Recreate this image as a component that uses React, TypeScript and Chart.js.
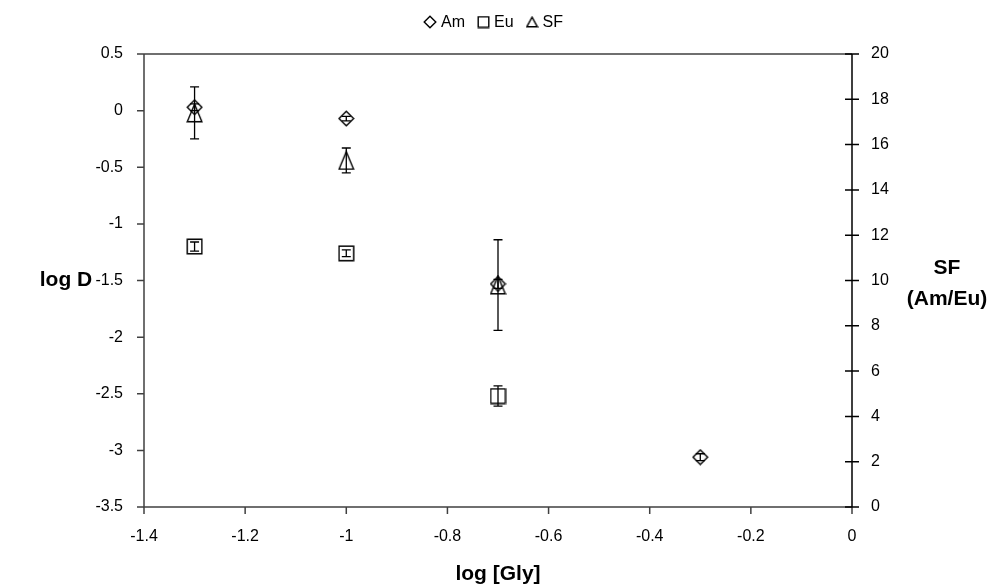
import React, { useEffect, useRef } from "react";
import { Chart, registerables } from "chart.js";

Chart.register(...registerables);

// ---- data ----
const xAm = [-1.3, -1.0, -0.7, -0.3];
const amLogD = [0.03, -0.07, -1.53, -3.06];
const amErr = [0.03, 0.02, 0.04, 0.03];

const xEu = [-1.3, -1.0, -0.7];
const euLogD = [-1.2, -1.26, -2.52];
const euErr = [0.04, 0.03, 0.09];

const xSF = [-1.3, -1.0, -0.7];
const sfValues = [17.4, 15.3, 9.8];
const sfErr = [1.15, 0.55, 2.0];

const legendLabels = ["Am", "Eu", "SF"];
const xTitle = "log [Gly]";
const yTitle = "log D";
const y1Title = ["SF", "(Am/Eu)"];

const FONT = "'Liberation Sans', Arial, sans-serif";

function makeMarker(kind: string, w: number, h: number, lw: number) {
  const c = document.createElement("canvas");
  c.width = w;
  c.height = h;
  const ctx = c.getContext("2d")!;
  ctx.strokeStyle = "#000";
  ctx.lineWidth = lw;
  ctx.beginPath();
  const m = lw / 2 + 0.5;
  if (kind === "diamond") {
    ctx.moveTo(w / 2, m);
    ctx.lineTo(w - m, h / 2);
    ctx.lineTo(w / 2, h - m);
    ctx.lineTo(m, h / 2);
    ctx.closePath();
  } else if (kind === "square") {
    ctx.rect(m, m, w - 2 * m, h - 2 * m);
  } else {
    ctx.moveTo(w / 2, m);
    ctx.lineTo(w - m, h - m);
    ctx.lineTo(m, h - m);
    ctx.closePath();
  }
  ctx.stroke();
  return c;
}

const errorAndDecor = {
  id: "errorAndDecor",
  beforeDatasetsDraw(chart: any) {
    const ctx = chart.ctx;
    const xs = chart.scales.x;
    const ys = chart.scales.y;
    const y1 = chart.scales.y1;
    const { left, right, top, bottom } = chart.chartArea;
    ctx.save();
    ctx.lineWidth = 1.5;
    // frame
    ctx.strokeStyle = "#404040";
    ctx.beginPath();
    ctx.moveTo(left, top);
    ctx.lineTo(right, top);
    ctx.moveTo(left, top);
    ctx.lineTo(left, bottom);
    ctx.lineTo(right, bottom);
    ctx.stroke();
    // left ticks
    ctx.beginPath();
    ys.ticks.forEach((t: any) => {
      const p = ys.getPixelForValue(t.value);
      ctx.moveTo(left - 7, p);
      ctx.lineTo(left, p);
    });
    xs.ticks.forEach((t: any) => {
      const p = xs.getPixelForValue(t.value);
      ctx.moveTo(p, bottom);
      ctx.lineTo(p, bottom + 7);
    });
    ctx.stroke();
    // right axis
    ctx.strokeStyle = "#000";
    ctx.beginPath();
    ctx.moveTo(right, top);
    ctx.lineTo(right, bottom);
    y1.ticks.forEach((t: any) => {
      const p = y1.getPixelForValue(t.value);
      ctx.moveTo(right - 7, p);
      ctx.lineTo(right + 7, p);
    });
    ctx.stroke();
    ctx.restore();
  },
  afterDatasetsDraw(chart: any) {
    const ctx = chart.ctx;
    ctx.save();
    ctx.strokeStyle = "#000";
    ctx.lineWidth = 1.3;
    chart.data.datasets.forEach((ds: any, i: number) => {
      const meta = chart.getDatasetMeta(i);
      const sc = chart.scales[ds.yAxisID];
      meta.data.forEach((pt: any, j: number) => {
        const v = ds.data[j].y;
        const e = ds.errors[j];
        const yTop = sc.getPixelForValue(v + e);
        const yBot = sc.getPixelForValue(v - e);
        ctx.beginPath();
        ctx.moveTo(pt.x, yTop);
        ctx.lineTo(pt.x, yBot);
        ctx.moveTo(pt.x - 4.5, yTop);
        ctx.lineTo(pt.x + 4.5, yTop);
        ctx.moveTo(pt.x - 4.5, yBot);
        ctx.lineTo(pt.x + 4.5, yBot);
        ctx.stroke();
      });
    });
    ctx.restore();
  },
  afterDraw(chart: any) {
    const ctx = chart.ctx;
    const { left, right, top, bottom } = chart.chartArea;
    ctx.save();
    ctx.fillStyle = "#000";
    // axis titles
    ctx.font = `bold 21px ${FONT}`;
    ctx.textAlign = "center";
    ctx.textBaseline = "middle";
    ctx.fillText(xTitle, (left + right) / 2, 574);
    ctx.fillText(yTitle, 66, (top + bottom) / 2);
    ctx.fillText(y1Title[0], 947, 268);
    ctx.fillText(y1Title[1], 947, 299);
    // legend
    ctx.font = `16px ${FONT}`;
    const markers = [
      makeMarker("diamond", 14, 14, 1.4),
      makeMarker("square", 13, 13, 1.4),
      makeMarker("triangle", 13, 12, 1.4),
    ];
    const gap = 4;
    const spacing = 12;
    const widths = legendLabels.map((l, i) => markers[i].width + gap + ctx.measureText(l).width);
    const total = widths.reduce((a, b) => a + b, 0) + spacing * (legendLabels.length - 1);
    let x = 493 - total / 2;
    const ly = 22;
    ctx.textAlign = "left";
    legendLabels.forEach((l, i) => {
      const mk = markers[i];
      ctx.drawImage(mk, x, ly - mk.height / 2);
      ctx.fillText(l, x + mk.width + gap, ly + 1);
      x += widths[i] + spacing;
    });
    ctx.restore();
  },
};

const fmt = (v: any) => {
  const n = Number(Number(v).toFixed(2));
  return String(n);
};

export default function App() {
  const ref = useRef<HTMLCanvasElement>(null);
  useEffect(() => {
    const diamond = makeMarker("diamond", 17, 17, 1.4);
    const square = makeMarker("square", 17, 17, 1.4);
    const triangle = makeMarker("triangle", 17, 20, 1.4);
    const chart = new Chart(ref.current!, {
      type: "scatter",
      data: {
        datasets: [
          {
            label: legendLabels[0],
            data: xAm.map((x, i) => ({ x, y: amLogD[i] })),
            errors: amErr,
            yAxisID: "y",
            pointStyle: diamond,
            borderColor: "#000",
            backgroundColor: "transparent",
          } as any,
          {
            label: legendLabels[1],
            data: xEu.map((x, i) => ({ x, y: euLogD[i] })),
            errors: euErr,
            yAxisID: "y",
            pointStyle: square,
            borderColor: "#000",
            backgroundColor: "transparent",
          } as any,
          {
            label: legendLabels[2],
            data: xSF.map((x, i) => ({ x, y: sfValues[i] })),
            errors: sfErr,
            yAxisID: "y1",
            pointStyle: triangle,
            borderColor: "#000",
            backgroundColor: "transparent",
          } as any,
        ],
      },
      options: {
        responsive: false,
        animation: false,
        layout: { padding: { top: 54, left: 0, right: 0, bottom: 0 } },
        plugins: { legend: { display: false }, tooltip: { enabled: false } },
        scales: {
          x: {
            type: "linear",
            min: -1.4,
            max: 0,
            border: { display: false },
            grid: { display: true, drawOnChartArea: false, drawTicks: false, color: "transparent" },
            ticks: { stepSize: 0.2, padding: 20, color: "#000", font: { family: FONT, size: 16 }, callback: fmt },
            afterFit: (s: any) => { s.height = 81; },
          },
          y: {
            type: "linear",
            position: "left",
            min: -3.5,
            max: 0.5,
            border: { display: false },
            grid: { display: true, drawOnChartArea: false, drawTicks: false, color: "transparent" },
            ticks: { stepSize: 0.5, padding: 21, color: "#000", font: { family: FONT, size: 16 }, callback: fmt },
            afterFit: (s: any) => { s.width = 144; },
          },
          y1: {
            type: "linear",
            position: "right",
            min: 0,
            max: 20,
            border: { display: false },
            grid: { display: true, drawOnChartArea: false, drawTicks: false, color: "transparent" },
            ticks: { stepSize: 2, padding: 19, color: "#000", font: { family: FONT, size: 16 }, callback: fmt },
            afterFit: (s: any) => { s.width = 140; },
          },
        },
      } as any,
      plugins: [errorAndDecor],
    });
    return () => chart.destroy();
  }, []);
  return (
    <div style={{ position: "absolute", left: 0, top: 0, width: 992, height: 588, background: "#fff" }}>
      <canvas ref={ref} width={992} height={588} style={{ display: "block" }} />
    </div>
  );
}
